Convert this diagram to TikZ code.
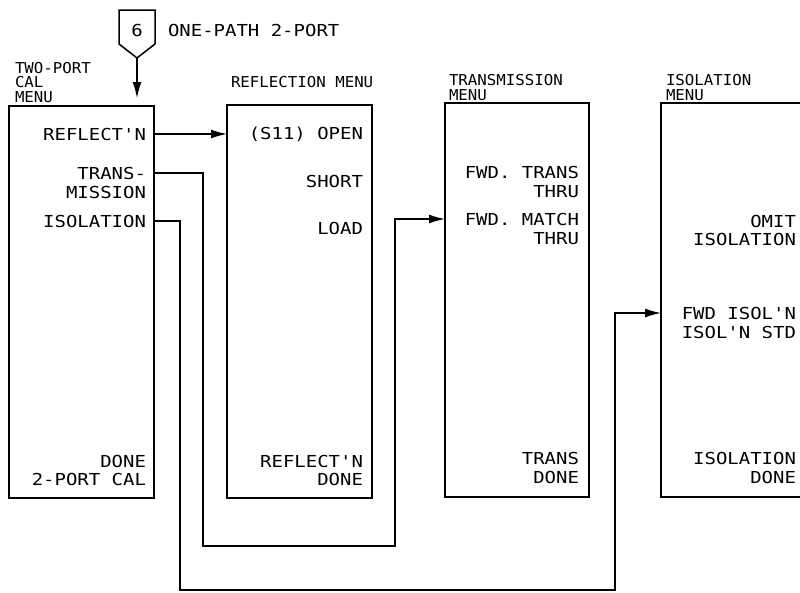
\documentclass[tikz,border=0pt]{standalone}
\usepackage{fontspec}
\usetikzlibrary{arrows.meta}
\newfontfamily\plotfont[FakeStretch=1.15]{DejaVu Sans Mono}
\newfontfamily\plotfonthd[FakeStretch=1.05]{DejaVu Sans Mono}
\tikzset{
  menubox/.style={draw, line width=1.5pt, inner sep=0pt, outer sep=0pt},
  lbl/.style={anchor=base east, inner sep=0pt, outer sep=0pt, font=\plotfont\fontsize{16.5}{19}\selectfont},
  hdr/.style={anchor=base west, inner sep=0pt, outer sep=0pt, font=\plotfonthd\fontsize{15}{15}\selectfont},
  wire/.style={line width=1.4pt},
  arr/.style={wire, -{Latex[length=16pt,width=9pt]}}
}
\begin{document}
\begin{tikzpicture}[x=1pt,y=-1pt]
\useasboundingbox (0,0) rectangle (800,592);
\begin{scope}
\clip (0,0) rectangle (800,592);
% boxes
\node[menubox, minimum width=145pt, minimum height=392pt] (b1) at (81.5,302) {};
\node[menubox, minimum width=145pt, minimum height=393pt] (b2) at (299.5,301.5) {};
\node[menubox, minimum width=144pt, minimum height=394pt] (b3) at (517,300) {};
\node[menubox, minimum width=140pt, minimum height=394pt] (b4) at (731,300) {};
\end{scope}

% headers
\node[hdr] (h1a) at (15,73) {TWO-PORT};
\node[hdr] (h1b) at (15,87) {CAL};
\node[hdr] (h1c) at (15,102) {MENU};
\node[hdr] (h2) at (231,87) {REFLECTION MENU};
\node[hdr] (h3a) at (449,85) {TRANSMISSION};
\node[hdr] (h3b) at (449,100) {MENU};
\node[hdr] (h4a) at (666,85) {ISOLATION};
\node[hdr] (h4b) at (666,100) {MENU};

% entry marker
\draw[line width=1.5pt] (119,10) -- (155,10) -- (155,44) -- (137,58) -- (119,44) -- cycle;
\coordinate (tip) at (137,58);
\node[font=\plotfont\fontsize{16.5}{19}\selectfont, inner sep=0pt] (six) at (137,30) {6};
\node[lbl, anchor=base west] (onepath) at (168,36) {ONE-PATH 2-PORT};
\draw[arr, shorten >=8pt] (tip) -- (tip |- b1.north);

% box 1 labels
\node[lbl] (r1) at (146,140) {REFLECT'N};
\node[lbl] (t1) at (146,179) {TRANS-};
\node[lbl] (t2) at (146,198) {MISSION};
\node[lbl] (i1) at (146,227) {ISOLATION};
\node[lbl] (d1a) at (146,467) {DONE};
\node[lbl] (d1b) at (146,485) {2-PORT CAL};

% box 2 labels
\node[lbl] (o2) at (363,139) {(S11) OPEN};
\node[lbl] (s2) at (363,187) {SHORT};
\node[lbl] (l2) at (363,234) {LOAD};
\node[lbl] (d2a) at (363,467) {REFLECT'N};
\node[lbl] (d2b) at (363,485) {DONE};

% box 3 labels
\node[lbl] (ft3a) at (579,178) {FWD. TRANS};
\node[lbl] (ft3b) at (579,197) {THRU};
\node[lbl] (fm3a) at (579,225) {FWD. MATCH};
\node[lbl] (fm3b) at (579,244) {THRU};
\node[lbl] (d3a) at (579,464) {TRANS};
\node[lbl] (d3b) at (579,483) {DONE};

% box 4 labels
\node[lbl] (om4a) at (796,227) {OMIT};
\node[lbl] (om4b) at (796,245) {ISOLATION};
\node[lbl] (fi4a) at (796,319) {FWD ISOL'N};
\node[lbl] (fi4b) at (796,338) {ISOL'N STD};
\node[lbl] (d4a) at (796,464) {ISOLATION};
\node[lbl] (d4b) at (796,483) {DONE};

% connector corners
\coordinate (tA) at (203,546);
\coordinate (tB) at (395,546);
\coordinate (iA) at (180,590);
\coordinate (iB) at (615,590);

% connectors
\draw[arr] (b1.east |- r1.east) -- (b2.west |- r1.east);
\draw[arr] (b1.east |- t1.east) -| (tA) -- (tB) |- (b3.west |- fm3a.east);
\draw[arr] (b1.east |- i1.east) -| (iA) -- (iB) |- (b4.west |- fi4a.east);
\end{tikzpicture}
\end{document}
